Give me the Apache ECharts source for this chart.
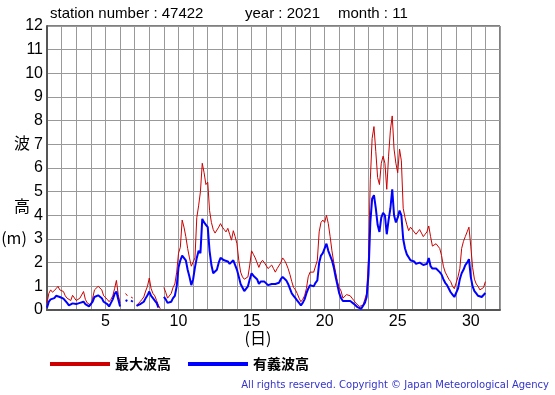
<!DOCTYPE html>
<html><head><meta charset="utf-8">
<script src="https://cdn.jsdelivr.net/npm/echarts@6/dist/echarts.min.js"></script>
<style>html,body{margin:0;padding:0;background:#fff}#c{width:555px;height:395px}</style>
</head><body><div id="c"></div>
<script>
// 3-hourly samples, starting at day 1 00:00 (8 values per day)
const stepsPerDay = 8;
const startDay = 1;
const maxWave = [
  0.3,0.7,0.85,0.75,0.8,0.9,1.0,0.85,
  0.85,0.78,0.6,0.5,0.45,0.4,0.62,0.55,
  0.4,0.35,0.5,0.55,0.78,0.45,0.3,0.25,
  0.2,0.5,0.85,0.9,1.0,1.05,0.85,0.6,
  0.55,0.45,0.35,0.45,0.6,0.9,1.25,0.65,
  0.3,null,null,0.7,0.6,null,0.55,0.5,
  null,0.2,0.25,0.35,0.45,0.55,0.8,1.0,
  1.35,0.9,0.7,0.6,0.4,0.2,0.05,null,
  0.95,0.75,0.5,0.55,0.7,0.95,1.1,1.6,
  2.4,2.65,3.8,3.5,3.1,2.6,2.2,1.85,
  1.9,2.2,3.9,4.4,5.0,6.2,5.8,5.3,
  5.4,4.2,3.7,3.4,3.25,3.2,3.5,3.65,
  3.5,3.4,3.3,3.45,3.2,2.95,3.35,3.1,
  2.8,2.1,1.6,1.4,1.3,1.25,1.4,1.9,
  2.5,2.35,2.2,2.0,1.8,2.0,2.1,2.0,
  1.95,1.75,1.7,1.9,1.75,1.6,1.75,1.8,
  2.0,2.2,2.1,1.95,1.75,1.5,1.2,0.95,
  0.85,0.7,0.5,0.35,0.45,0.6,0.9,1.4,
  1.6,1.55,1.6,1.65,2.1,3.3,3.7,3.8,
  3.7,4.0,3.65,3.1,2.5,2.0,1.6,1.2,
  0.95,0.8,0.5,0.45,0.65,0.7,0.6,0.5,
  0.4,0.3,0.25,0.15,0.12,0.2,0.45,0.7,
  2.2,5.5,7.25,7.75,6.7,5.6,5.3,6.2,
  6.5,6.2,5.1,6.5,7.6,8.2,6.8,6.2,
  5.8,6.8,6.3,4.3,3.9,3.6,3.35,3.5,
  3.4,3.35,3.2,3.3,3.4,3.25,3.1,3.2,
  3.3,3.55,3.1,2.7,2.65,2.8,2.85,2.6,
  2.3,1.85,1.6,1.45,1.3,1.2,1.0,0.9,
  0.95,1.4,1.75,2.6,2.9,3.1,3.3,3.5,
  2.7,1.8,1.3,1.1,1.0,0.85,0.85,0.95,
  1.2
];
const sigWave = [
  0.1,0.35,0.45,0.45,0.5,0.6,0.62,0.55,
  0.5,0.48,0.42,0.3,0.2,0.24,0.28,0.3,
  0.25,0.2,0.3,0.3,0.35,0.25,0.18,0.15,
  0.15,0.35,0.55,0.6,0.62,0.64,0.5,0.35,
  0.35,0.25,0.15,0.3,0.45,0.68,0.78,0.45,
  0.15,null,null,0.42,0.38,null,0.4,0.35,
  null,0.17,0.15,0.25,0.3,0.35,0.5,0.62,
  0.78,0.6,0.5,0.4,0.3,0.1,null,null,
  0.55,0.45,0.3,0.28,0.35,0.5,0.6,1.0,
  1.8,2.1,2.3,2.35,2.1,1.7,1.4,1.05,
  1.3,1.8,2.2,2.5,2.4,3.85,3.7,3.6,
  3.5,2.5,1.9,1.55,1.6,1.7,2.0,2.2,
  2.15,2.1,2.1,2.05,1.95,1.95,2.1,1.9,
  1.7,1.4,1.1,0.95,0.8,0.85,1.0,1.3,
  1.55,1.45,1.4,1.3,1.1,1.2,1.25,1.2,
  1.15,1.05,1.05,1.1,1.05,1.1,1.1,1.15,
  1.3,1.4,1.35,1.25,1.1,0.9,0.7,0.6,
  0.5,0.4,0.3,0.2,0.3,0.45,0.7,0.9,
  1.05,1.1,1.0,1.15,1.25,2.0,2.3,2.4,
  2.6,2.8,2.5,2.5,2.1,1.8,1.4,1.05,
  0.7,0.5,0.38,0.3,0.38,0.4,0.38,0.3,
  0.26,0.18,0.12,0.08,0.05,0.1,0.3,0.55,
  1.5,3.7,4.7,4.85,4.3,3.6,3.3,3.9,
  4.1,4.0,3.2,3.8,4.3,5.1,4.0,3.7,
  3.9,4.2,4.0,3.0,2.6,2.35,2.3,2.1,
  2.1,2.05,1.95,1.9,2.0,1.95,1.9,1.95,
  1.95,2.2,1.85,1.75,1.7,1.75,1.75,1.6,
  1.5,1.3,1.15,1.05,0.9,0.75,0.65,0.55,
  0.5,0.9,1.3,1.55,1.7,1.9,2.0,2.15,
  1.4,1.0,0.8,0.7,0.6,0.55,0.55,0.6,
  0.72
];
const xTickLabels = [5, 10, 15, 20, 25, 30];
const seriesNames = ['最大波高', '有義波高'];
const titleParts = ['station number : 47422', 'year : 2021', 'month : 11'];
const yNameParts = ['波', '高', '(m)'];
const xName = '(日)';
const copyright = 'All rights reserved. Copyright © Japan Meteorological Agency';

const toPairs = arr => arr.map((v, i) => [startDay + i / stepsPerDay, v]);

const latin = '"Liberation Sans", Arial, sans-serif';
const cjk = '"Noto Sans CJK JP", sans-serif';

const chart = echarts.init(document.getElementById('c'));
chart.setOption({
  animation: false,
  backgroundColor: '#fff',
  grid: { left: 47, top: 26, width: 453, height: 284, show: true, borderColor: '#000', borderWidth: 1, containLabel: false },
  xAxis: {
    type: 'value', min: 1, max: 32, interval: 1,
    axisLine: { show: true, onZero: false, lineStyle: { color: '#555', width: 2 } },
    axisTick: { show: false },
    splitLine: { show: true, lineStyle: { color: '#999', width: 1 } },
    axisLabel: {
      color: '#000', fontSize: 16, fontFamily: latin, margin: 4,
      formatter: v => xTickLabels.includes(v) ? String(v) : ''
    }
  },
  yAxis: {
    type: 'value', min: 0, max: 12, interval: 1,
    axisLine: { show: true, lineStyle: { color: '#555', width: 2 } },
    axisTick: { show: false },
    splitLine: { show: true, lineStyle: { color: '#999', width: 1 } },
    axisLabel: { color: '#000', fontSize: 16, fontFamily: latin, margin: 4 }
  },
  legend: {
    data: seriesNames, left: 45, top: 352, icon: 'rect', itemWidth: 60, itemHeight: 4, itemGap: 17,
    textStyle: { color: '#000', fontSize: 14, fontWeight: 'bold', fontFamily: cjk }
  },
  series: [
    { name: seriesNames[0], type: 'line', data: toPairs(maxWave), showSymbol: false, connectNulls: false,
      lineStyle: { color: '#cc0000', width: 1 }, itemStyle: { color: '#cc0000' } },
    { name: seriesNames[1], type: 'line', data: toPairs(sigWave), showSymbol: false, connectNulls: false,
      lineStyle: { color: '#0000ff', width: 2 }, itemStyle: { color: '#0000ff' } }
  ],
  graphic: [
    { type: 'text', left: 50, top: 6, style: { text: titleParts[0], font: '15px ' + latin, fill: '#000' } },
    { type: 'text', left: 245, top: 6, style: { text: titleParts[1], font: '15px ' + latin, fill: '#000' } },
    { type: 'text', left: 338, top: 6, style: { text: titleParts[2], font: '15px ' + latin, fill: '#000' } },
    { type: 'text', x: 22, y: 143, style: { text: yNameParts[0], font: '16px ' + cjk, fill: '#000', align: 'center', verticalAlign: 'middle' } },
    { type: 'text', x: 22, y: 206, style: { text: yNameParts[1], font: '16px ' + cjk, fill: '#000', align: 'center', verticalAlign: 'middle' } },
    { type: 'text', x: 14, y: 238, style: { text: yNameParts[2], font: '16px ' + cjk, fill: '#000', align: 'center', verticalAlign: 'middle' } },
    { type: 'text', x: 258, y: 338, style: { text: xName, font: '16px ' + cjk, fill: '#000', align: 'center', verticalAlign: 'middle' } },
    { type: 'text', x: 549, y: 385, style: { text: copyright, font: '10px "DejaVu Sans", sans-serif', fill: '#3333cc', align: 'right', verticalAlign: 'middle' } }
  ]
});
</script></body></html>
